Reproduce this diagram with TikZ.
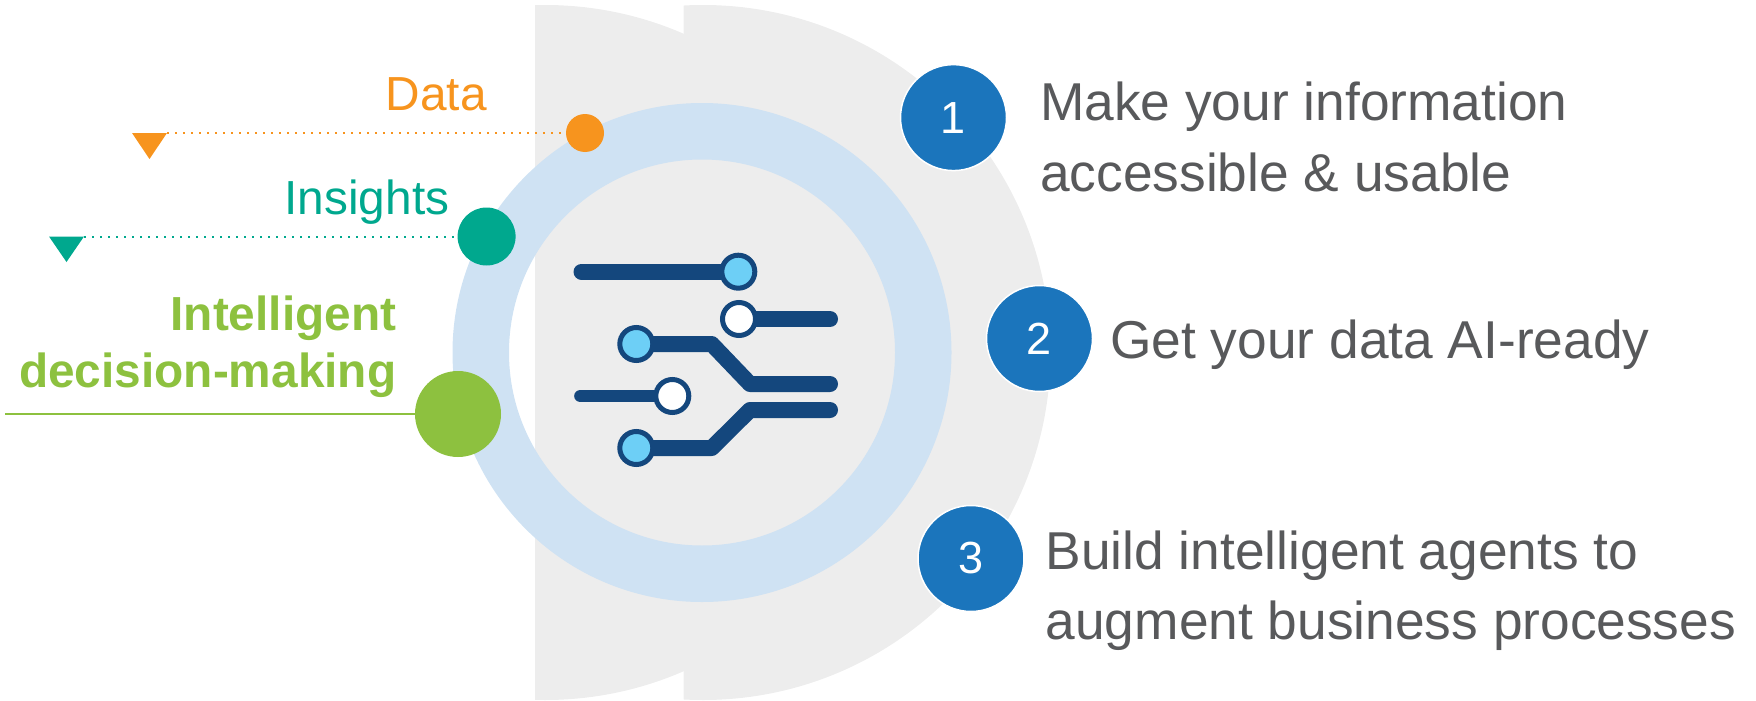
\documentclass[tikz,border=0pt]{standalone}
\usepackage{fontspec}
\setmainfont{Liberation Sans}
\definecolor{backgrey}{HTML}{EDEDED}
\definecolor{ringblue}{HTML}{CFE2F3}
\definecolor{dataorange}{HTML}{F7941E}
\definecolor{insightteal}{HTML}{00A88E}
\definecolor{smartgreen}{HTML}{8DC13F}
\definecolor{numblue}{HTML}{1B75BC}
\definecolor{navy}{HTML}{14477D}
\definecolor{sky}{HTML}{6DCFF6}
\definecolor{greytext}{HTML}{58595B}
\pgfdeclarelayer{pins}
\pgfsetlayers{main,pins}
\tikzset{
  dotnode/.style={circle,inner sep=0pt,minimum size=#1},
  numnode/.style={circle,inner sep=0pt,minimum size=106pt,fill=numblue,draw=white,line width=1.5pt,text=white,font=\fontsize{45}{45}\selectfont},
  stepnote/.style={anchor=base west,inner sep=0pt,text=greytext,align=left,font=\fontsize{53.3}{70.5}\selectfont},
  sidenote/.style={anchor=base east,inner sep=0pt,font=\fontsize{47.8}{57}\selectfont},
  pin/.style={circle,inner sep=0pt,minimum size=33pt,draw=navy,line width=5pt},
  wire/.style={draw=navy,line width=16pt,line cap=round,line join=round},
  thinwire/.style={draw=navy,line width=12.7pt,line cap=round},
  dotline/.style={line width=2pt,dash pattern=on 2pt off 6pt},
}
\begin{document}
\begin{tikzpicture}[x=1pt,y=-1pt]
\useasboundingbox (0,0) rectangle (1756,701);
% grey backdrop
\begin{scope}
  \clip (535,0) rectangle (700,701);
  \fill[backgrey] (545,352.5) circle [radius=347.5pt];
\end{scope}
\begin{scope}
  \clip (683.5,0) rectangle (1100,701);
  \fill[backgrey] (703,352.5) circle [radius=347.5pt];
\end{scope}
% ring
\fill[ringblue,even odd rule] (702,352.5) circle [radius=249.5pt] (702,352.5) circle [radius=193pt];
% side dots and leaders
\node[dotnode=38pt,fill=dataorange] (d) at (585,133) {};
\node[dotnode=58pt,fill=insightteal] (i) at (486.6,236.5) {};
\node[dotnode=86pt,fill=smartgreen] (g) at (458,414) {};
\coordinate (t1) at (167,133);
\coordinate (t2) at (84,236.5);
\coordinate (g0) at (5,414);
\fill[dataorange] (132,133) -- (t1) -- (149.5,159) -- cycle;
\fill[insightteal] (49,236.5) -- (t2) -- (66.5,262) -- cycle;
\draw[dotline,dataorange] (t1) -- (d);
\draw[dotline,insightteal] (t2) -- (i);
\draw[smartgreen,line width=1.5pt] (g0) -- (g);
\node[sidenote,text=dataorange] (dl) at (487,110.5) {Data};
\node[sidenote,text=insightteal] (il) at (449.5,214) {Insights};
\node[sidenote,text=smartgreen,font=\fontsize{47.8}{57}\selectfont\bfseries,align=right] (gl) at (396.5,387) {Intelligent\\decision-making};
% icon
\begin{pgfonlayer}{pins}
\node[pin,fill=sky] (p1) at (738.3,271.7) {};
\node[pin,fill=white] (p2) at (739,319) {};
\node[pin,fill=sky] (p3) at (636.3,344) {};
\node[pin,fill=white] (p4) at (672.3,396) {};
\node[pin,fill=sky] (p5) at (636.3,448) {};
\end{pgfonlayer}
\coordinate (e1) at (581.5,271.7);
\coordinate (e2) at (830,319);
\coordinate (e3) at (830,384);
\coordinate (e4) at (580.5,396);
\coordinate (e5) at (830,410);
\draw[wire] (e1) -- (p1.center);
\draw[wire] (e2) -- (p2.center);
\draw[wire] (e3) -- (750,384) -- (711.7,344) -- (p3.center);
\draw[thinwire] (e4) -- (p4.center);
\draw[wire] (e5) -- (750,410) -- (711.7,448) -- (p5.center);
% numbered steps
\node[numnode] (n1) at (953.5,117.6) {1};
\node[numnode] (n2) at (1039.5,338.5) {2};
\node[numnode] (n3) at (971,558.5) {3};
\node[stepnote] (s1) at (1040,191) {Make your information\\accessible \& usable};
\node[stepnote] (s2) at (1110,358.5) {Get your data AI-ready};
\node[stepnote] (s3) at (1045.5,639.5) {Build intelligent agents to\\augment business processes};
\end{tikzpicture}
\end{document}
